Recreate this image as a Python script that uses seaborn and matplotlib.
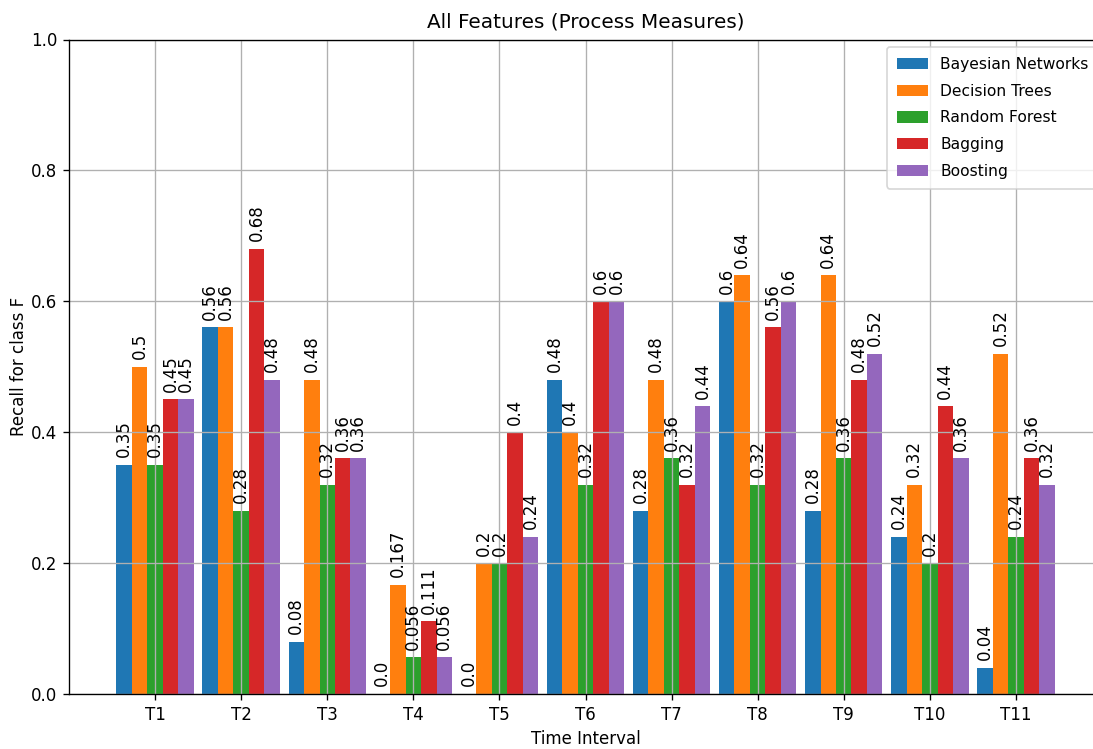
import matplotlib
matplotlib.use("Agg")
import matplotlib.pyplot as plt
import seaborn as sns
import pandas as pd

# Recall for class F per time interval, one list per classifier
intervals = ["T1", "T2", "T3", "T4", "T5", "T6", "T7", "T8", "T9", "T10", "T11"]
bayesian_networks = [0.35, 0.56, 0.08, 0.0, 0.0, 0.48, 0.28, 0.6, 0.28, 0.24, 0.04]
decision_trees = [0.5, 0.56, 0.48, 0.167, 0.2, 0.4, 0.48, 0.64, 0.64, 0.32, 0.52]
random_forest = [0.35, 0.28, 0.32, 0.056, 0.2, 0.32, 0.36, 0.32, 0.36, 0.2, 0.24]
bagging = [0.45, 0.68, 0.36, 0.111, 0.4, 0.6, 0.32, 0.56, 0.48, 0.44, 0.36]
boosting = [0.45, 0.48, 0.36, 0.056, 0.24, 0.6, 0.44, 0.6, 0.52, 0.36, 0.32]

models = ["Bayesian Networks", "Decision Trees", "Random Forest", "Bagging", "Boosting"]
series = [bayesian_networks, decision_trees, random_forest, bagging, boosting]
colors = ["#1f77b4", "#ff7f0e", "#2ca02c", "#d62728", "#9467bd"]

rows = []
for model, vals in zip(models, series):
    for t, v in zip(intervals, vals):
        rows.append({"Time Interval": t, "Model": model, "Recall": v})
df = pd.DataFrame(rows)

fig = plt.figure(figsize=(1093 / 120, 749 / 120), dpi=120)
ax = fig.add_axes([69 / 1093, 1 - 694 / 749, 1033 / 1093, (694 - 39.5) / 749])

sns.barplot(data=df, x="Time Interval", y="Recall", hue="Model",
            order=intervals, hue_order=models, palette=colors,
            width=0.9, gap=0, saturation=1, errorbar=None, ax=ax)

# value labels above each bar
for container, vals in zip(ax.containers, series):
    ax.bar_label(container, labels=[str(v) for v in vals], rotation=90, padding=4.5)

ax.set_xlim(-1, 11)
ax.set_ylim(0, 1.0)
ax.grid(True)
ax.set_axisbelow("line")
ax.set_title("All Features (Process Measures)", pad=7)
ax.set_xlabel("Time Interval")
ax.set_ylabel("Recall for class F", labelpad=2)
sns.move_legend(ax, "upper right", bbox_to_anchor=(1.004, 1.0), title=None,
                fontsize=9.3, labelspacing=0.76, handleheight=0.75, borderpad=0.62)

fig.savefig("out.png", dpi=120)
